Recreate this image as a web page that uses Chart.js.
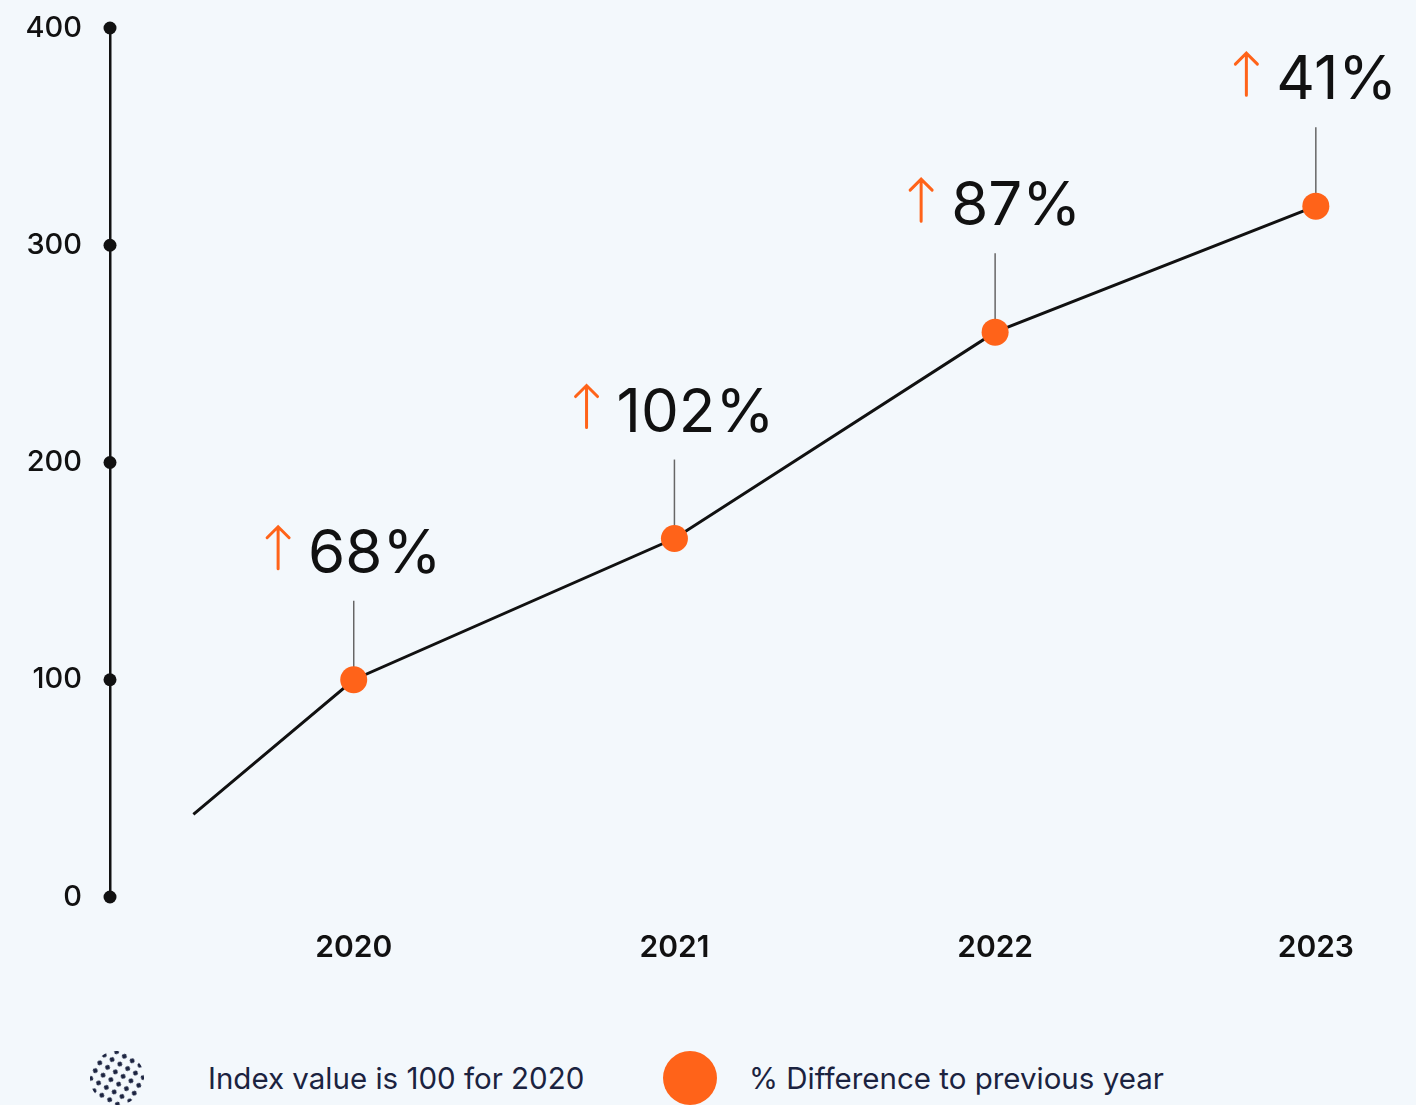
<!DOCTYPE html>
<html>
<head>
<meta charset="utf-8">
<script src="https://cdn.jsdelivr.net/npm/chart.js@4.4.1/dist/chart.umd.min.js"></script>
<style>
  html, body { margin: 0; padding: 0; background: #f3f8fc; }
  body { width: 1416px; height: 1105px; position: relative; overflow: hidden; font-family: "Inter", sans-serif; }
  #wrap { position: absolute; left: 0; top: 0; width: 1416px; height: 1000px; }
  .legend-item { position: absolute; display: flex; align-items: center; color: #1b2340; font-size: 29.5px; }
  .swatch { width: 54px; height: 54px; border-radius: 50%; flex: none; }
  .dots {
    background-image: radial-gradient(circle, #1b2340 2px, transparent 2.6px);
    background-size: 9px 9px;
    transform: rotate(30deg);
  }
  .orange { background: #ff6319; }
</style>
</head>
<body>
<div id="wrap"><canvas id="myChart" width="1416" height="1000"></canvas></div>
<div class="legend-item" style="left:90px; top:1051px;">
  <div class="swatch dots"></div><span style="margin-left:64px;">Index value is 100 for 2020</span>
</div>
<div class="legend-item" style="left:663px; top:1051px;">
  <div class="swatch orange"></div><span style="margin-left:32px;">% Difference to previous year</span>
</div>
<script>
// 資料
const years = [2019.5, 2020, 2021, 2022, 2023];
const indexValues = [38, 100, 165, 260, 318];
const changeLabels = [null, "68%", "102%", "87%", "41%"];
const xTickLabels = ["2020", "2021", "2022", "2023"];
const yTickValues = [0, 100, 200, 300, 400];

const ORANGE = "#ff6319";
const FONT = "Inter, sans-serif";

// 標註：引線、箭頭、百分比
const annotationPlugin = {
  id: "annotations",
  beforeDatasetsDraw(chart) {
    const ctx = chart.ctx;
    const meta = chart.getDatasetMeta(0);
    ctx.save();
    ctx.strokeStyle = "#666";
    ctx.lineWidth = 1.5;
    meta.data.forEach((pt, i) => {
      if (!changeLabels[i]) return;
      ctx.beginPath();
      ctx.moveTo(pt.x, pt.y);
      ctx.lineTo(pt.x, pt.y - 79);
      ctx.stroke();
    });
    ctx.restore();
  },
  afterDatasetsDraw(chart) {
    const ctx = chart.ctx;
    const meta = chart.getDatasetMeta(0);
    const yScale = chart.scales.y;
    ctx.save();
    // 軸上的圓點
    ctx.fillStyle = "#111";
    yTickValues.forEach((v) => {
      ctx.beginPath();
      ctx.arc(yScale.left + yScale.width, yScale.getPixelForValue(v), 6.5, 0, Math.PI * 2);
      ctx.fill();
    });
    ctx.font = "400 60px " + FONT;
    ctx.textBaseline = "alphabetic";
    meta.data.forEach((pt, i) => {
      const label = changeLabels[i];
      if (!label) return;
      const tw = ctx.measureText(label).width;
      const arrowW = 24, gap = 18;
      const total = arrowW + gap + tw;
      const left = pt.x - total / 2;
      const base = pt.y - 107;
      // 箭頭
      const ax = left + arrowW / 2;
      ctx.strokeStyle = ORANGE;
      ctx.lineWidth = 3;
      ctx.lineCap = "round";
      ctx.beginPath();
      ctx.moveTo(ax, base - 4);
      ctx.lineTo(ax, base - 46);
      ctx.moveTo(ax - 11, base - 35);
      ctx.lineTo(ax, base - 46);
      ctx.lineTo(ax + 11, base - 35);
      ctx.stroke();
      ctx.fillStyle = "#111";
      ctx.textAlign = "left";
      ctx.fillText(label, left + arrowW + gap, base);
    });
    ctx.restore();
  },
};

const ctx = document.querySelector("#myChart").getContext("2d");
new Chart(ctx, {
  type: "line",
  data: {
    datasets: [
      {
        data: years.map((x, i) => ({ x, y: indexValues[i] })),
        borderColor: "#111",
        borderWidth: 3,
        tension: 0,
        pointRadius: years.map((x, i) => (changeLabels[i] ? 13.5 : 0)),
        pointBackgroundColor: ORANGE,
        pointBorderWidth: 0,
        clip: false,
      },
    ],
  },
  options: {
    responsive: false,
    animation: false,
    layout: { padding: { top: 28, right: 20, bottom: 30, left: 0 } },
    plugins: { legend: { display: false }, tooltip: { enabled: false } },
    scales: {
      x: {
        type: "linear",
        min: 2019.24,
        max: 2023.25,
        grid: { display: false, drawTicks: false },
        border: { display: false },
        afterBuildTicks: (s) => { s.ticks = xTickLabels.map((v) => ({ value: Number(v) })); },
        afterFit: (s) => { s.height = 73; s.paddingLeft = 0; s.paddingRight = 0; },
        ticks: {
          padding: 33,
          color: "#111",
          font: { family: FONT, size: 30, weight: "600" },
          callback: (v) => String(v),
        },
      },
      y: {
        min: 0,
        max: 400,
        grid: { display: false, drawTicks: false },
        border: { display: true, color: "#111", width: 2.5 },
        afterBuildTicks: (s) => { s.ticks = yTickValues.map((v) => ({ value: v })); },
        afterFit: (s) => { s.width = 110; s.paddingTop = 0; s.paddingBottom = 0; },
        ticks: {
          padding: 28,
          color: "#111",
          font: { family: FONT, size: 29, weight: "500" },
        },
      },
    },
  },
  plugins: [annotationPlugin],
});
</script>
</body>
</html>
